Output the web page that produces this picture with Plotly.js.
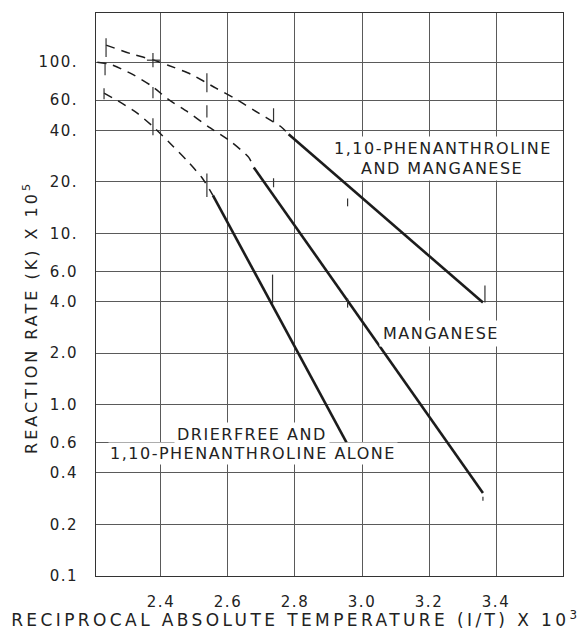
<!DOCTYPE html>
<html><head><meta charset="utf-8">
<script src="https://cdn.plot.ly/plotly-3.0.1.min.js"></script>
<style>
html,body{margin:0;padding:0;background:#fff;}
text{letter-spacing:1.5px;}
.annotation[data-index="0"] text{letter-spacing:3.4px;}
.annotation[data-index="1"] text{letter-spacing:3px;}
</style></head><body>
<div id="chart" style="width:584px;height:644px;"></div>
<script>
// 1,10-phenanthroline and manganese
const phenMnDashX = [2.236, 2.314, 2.379, 2.421, 2.489, 2.564, 2.620, 2.677, 2.713, 2.760, 2.781];
const phenMnDashY = [125.7, 111.4, 102.7, 96.0, 85.1, 70.5, 61.5, 52.4, 47.6, 41.7, 37.9];
const phenMnSolidX = [2.781, 3.361];
const phenMnSolidY = [37.9, 3.95];
// manganese
const mnDashX = [2.210, 2.248, 2.314, 2.373, 2.421, 2.477, 2.540, 2.611, 2.662, 2.677];
const mnDashY = [100, 97.3, 85.1, 72.4, 60.8, 51.7, 42.2, 34.1, 27.8, 24.3];
const mnSolidX = [2.677, 3.361];
const mnSolidY = [24.3, 0.305];
// drierfree and 1,10-phenanthroline alone
const drDashX = [2.230, 2.278, 2.329, 2.382, 2.427, 2.477, 2.522, 2.555];
const drDashY = [65.9, 58.4, 50.4, 41.1, 33.6, 26.7, 21.2, 16.7];
const drSolidX = [2.555, 2.954];
const drSolidY = [16.7, 0.6];
// observed points drawn as vertical marks (x, low, high)
const markX  = [2.236, 2.376, 2.537, 2.736, 2.957, 3.367, 2.233, 2.376, 2.537, 2.736, 2.957, 3.361, 2.230, 2.376, 2.537, 2.733];
const markLo = [107, 93.5, 66.8, 44.6, 14.4, 3.95, 84.0, 61.5, 47.6, 18.6, 3.69, 0.275, 60.8, 37.4, 16.3, 3.90];
const markHi = [138, 113, 86.2, 53.8, 16.0, 4.97, 98.7, 71.5, 56.1, 21.0, 4.17, 0.290, 70.5, 47.1, 22.4, 5.75];
const crossX = [2.358, 2.397];
const crossY = [102.7, 102.7];
// ticks
const xTickVals = [2.4, 2.6, 2.8, 3.0, 3.2, 3.4];
const xTickText = ['2.4', '2.6', '2.8', '3.0', '3.2', '3.4'];
const yTickVals = [0.1, 0.2, 0.4, 0.6, 1, 2, 4, 6, 10, 20, 40, 60, 100];
const yTickText = ['0.1', '0.2', '0.4', '0.6', '1.0', '2.0', '4.0', '6.0', '10.', '20.', '40.', '60.', '100.'];

const ink = '#1c1c1c';
const dashStyle = {color: ink, width: 1.5, dash: '9px,7px'};
const solidStyle = {color: ink, width: 2.6};

const segX = [], segY = [];
for (let i = 0; i < markX.length; i++) {
  segX.push(markX[i], markX[i], null);
  segY.push(markLo[i], markHi[i], null);
}
segX.push(crossX[0], crossX[1], null);
segY.push(crossY[0], crossY[1], null);

const traces = [
  {x: phenMnDashX, y: phenMnDashY, mode: 'lines', line: Object.assign({shape: 'spline', smoothing: 0.6}, dashStyle)},
  {x: phenMnSolidX, y: phenMnSolidY, mode: 'lines', line: solidStyle},
  {x: mnDashX, y: mnDashY, mode: 'lines', line: Object.assign({shape: 'spline', smoothing: 0.6}, dashStyle)},
  {x: mnSolidX, y: mnSolidY, mode: 'lines', line: solidStyle},
  {x: drDashX, y: drDashY, mode: 'lines', line: Object.assign({shape: 'spline', smoothing: 0.6}, dashStyle)},
  {x: drSolidX, y: drSolidY, mode: 'lines', line: solidStyle},
  {x: segX, y: segY, mode: 'lines', line: {color: '#333', width: 1.2}, connectgaps: false}
];

const font = 'DejaVu Sans, sans-serif';
const axisCommon = {
  showgrid: true, gridcolor: '#5a5a5a', gridwidth: 1,
  showline: true, mirror: true, linecolor: '#333', linewidth: 1,
  ticks: '', zeroline: false, fixedrange: true,
  tickfont: {family: font, size: 15, color: '#222'}
};
const labelFont = {family: font, size: 16, color: '#222'};

const layout = {
  width: 584, height: 644,
  margin: {l: 96, r: 21, t: 13, b: 68},
  paper_bgcolor: '#fff', plot_bgcolor: '#fff',
  showlegend: false,
  xaxis: Object.assign({}, axisCommon, {range: [2.206, 3.6], tickmode: 'array', tickvals: xTickVals, ticktext: xTickText, ticklabelstandoff: 12}),
  yaxis: Object.assign({}, axisCommon, {type: 'log', range: [-1, 2.287], tickmode: 'array', tickvals: yTickVals, ticktext: yTickText, ticklabelstandoff: 14}),
  annotations: [
    {text: 'RECIPROCAL ABSOLUTE TEMPERATURE (I/T) X 10<sup>3</sup>', xref: 'paper', yref: 'paper', x: 0.428, y: -0.0995, showarrow: false, font: {family: font, size: 17, color: '#222'}},
    {text: 'REACTION RATE (K) X 10<sup>5</sup>', xref: 'paper', yref: 'paper', x: -0.167, y: 0.458, textangle: -90, showarrow: false, font: {family: font, size: 16, color: '#222'}},
    {text: '1,10-PHENANTHROLINE', x: 3.242, y: 1.497, showarrow: false, bgcolor: '#fff', borderpad: 2, font: labelFont},
    {text: 'AND MANGANESE', x: 3.239, y: 1.380, showarrow: false, bgcolor: '#fff', borderpad: 2, font: labelFont},
    {text: 'MANGANESE', x: 3.236, y: 0.415, showarrow: false, bgcolor: '#fff', borderpad: 3, font: labelFont},
    {text: 'DRIERFREE AND', x: 2.671, y: -0.175, showarrow: false, bgcolor: '#fff', borderpad: 2, font: labelFont},
    {text: '1,10-PHENANTHROLINE ALONE', x: 2.674, y: -0.287, showarrow: false, bgcolor: '#fff', borderpad: 1, font: labelFont}
  ]
};

Plotly.newPlot('chart', traces, layout, {displayModeBar: false, staticPlot: true});
</script>
</body></html>
